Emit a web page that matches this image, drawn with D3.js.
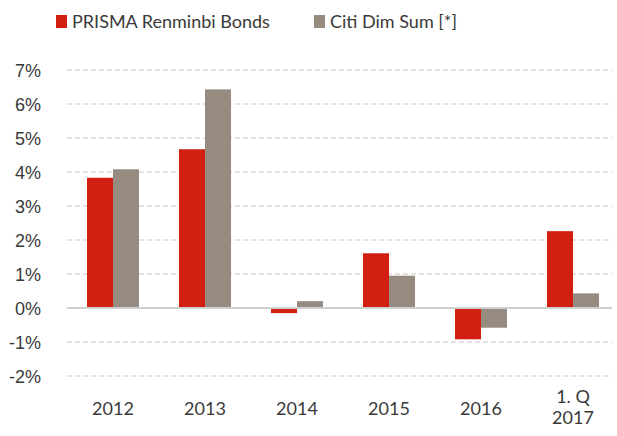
<!DOCTYPE html>
<html>
<head>
<meta charset="utf-8">
<script src="https://cdn.jsdelivr.net/npm/d3@7"></script>
<style>
  body { margin: 0; background: #fff; }
  svg { display: block; font-family: Lato, "Open Sans", sans-serif; }
  .tick text { fill: #3a3a3a; }
</style>
</head>
<body>
<svg width="617" height="436"></svg>
<script>
var categories = ["2012", "2013", "2014", "2015", "2016", "1. Q|2017"];
var seriesNames = ["PRISMA Renminbi Bonds", "Citi Dim Sum [*]"];
var prisma = [3.83, 4.67, -0.15, 1.61, -0.92, 2.26];
var citi = [4.08, 6.43, 0.2, 0.95, -0.58, 0.43];
var yTicks = [-2, -1, 0, 1, 2, 3, 4, 5, 6, 7];
var colors = ["#d31f11", "#978b80"];

var svg = d3.select("svg");
var margin = {top: 70, right: 0, bottom: 60, left: 67},
    width = 617 - margin.left - margin.right,
    height = 376 - margin.top;

var g = svg.append("g")
  .attr("transform", "translate(" + margin.left + "," + margin.top + ")");

var x = d3.scaleBand().domain(categories).range([0, 552]).paddingInner(0.435).paddingOuter(0.2175);
var x1 = d3.scaleBand().domain([0, 1]).range([0, x.bandwidth()]);
var y = d3.scaleLinear().domain([-2, 7]).range([height, 0]);

// grid lines
g.append("g").selectAll("line")
  .data(yTicks.filter(d => d !== 0))
  .enter().append("line")
    .attr("x1", 0).attr("x2", 545)
    .attr("y1", d => y(d)).attr("y2", d => y(d))
    .attr("stroke", "#d9d9d9")
    .attr("stroke-width", 1.5)
    .attr("stroke-dasharray", "5,3");

// y axis labels
var yAxis = g.append("g")
  .attr("transform", "translate(-23,0)")
  .call(d3.axisLeft(y).tickValues(yTicks).tickFormat(d => d + "%").tickSize(0));
yAxis.select(".domain").remove();
yAxis.selectAll("text").style("font-size", "18px").attr("dy", "0.35em");

// bars
var data = categories.map((c, i) => ({cat: c, vals: [prisma[i], citi[i]]}));
var groups = g.selectAll(".grp").data(data).enter().append("g")
  .attr("transform", d => "translate(" + x(d.cat) + ",0)");
groups.selectAll("rect")
  .data(d => d.vals.map((v, k) => ({v: v, k: k})))
  .enter().append("rect")
    .attr("x", d => x1(d.k))
    .attr("width", x1.bandwidth())
    .attr("y", d => y(Math.max(0, d.v)))
    .attr("height", d => Math.abs(y(d.v) - y(0)))
    .attr("fill", d => colors[d.k]);

// zero line
g.append("line")
  .attr("x1", 0).attr("x2", 545)
  .attr("y1", y(0)).attr("y2", y(0))
  .attr("stroke", "#d0d0d0")
  .attr("stroke-width", 2);

// x labels
var xl = g.append("g").selectAll("text").data(categories).enter().append("text")
  .attr("x", d => x(d) + x.bandwidth() / 2)
  .attr("text-anchor", "middle")
  .attr("fill", "#3a3a3a")
  .style("font-size", "18px");
xl.each(function(d) {
  var parts = d.split("|");
  var t = d3.select(this);
  if (parts.length === 1) {
    t.attr("y", 345).text(d);
  } else {
    parts.forEach(function(p, i) {
      t.append("tspan").attr("x", x(d) + x.bandwidth() / 2).attr("y", 333 + i * 21).text(p);
    });
  }
});

// legend
var legX = [56, 314];
var leg = svg.append("g").selectAll("g").data(seriesNames).enter().append("g")
  .attr("transform", (d, i) => "translate(" + legX[i] + ",15)");
leg.append("rect").attr("width", 11).attr("height", 13).attr("fill", (d, i) => colors[i]);
leg.append("text").attr("x", 16).attr("y", 12.5)
  .attr("fill", "#3a3a3a")
  .style("font-size", "18px")
  .text(d => d);
</script>
</body>
</html>
